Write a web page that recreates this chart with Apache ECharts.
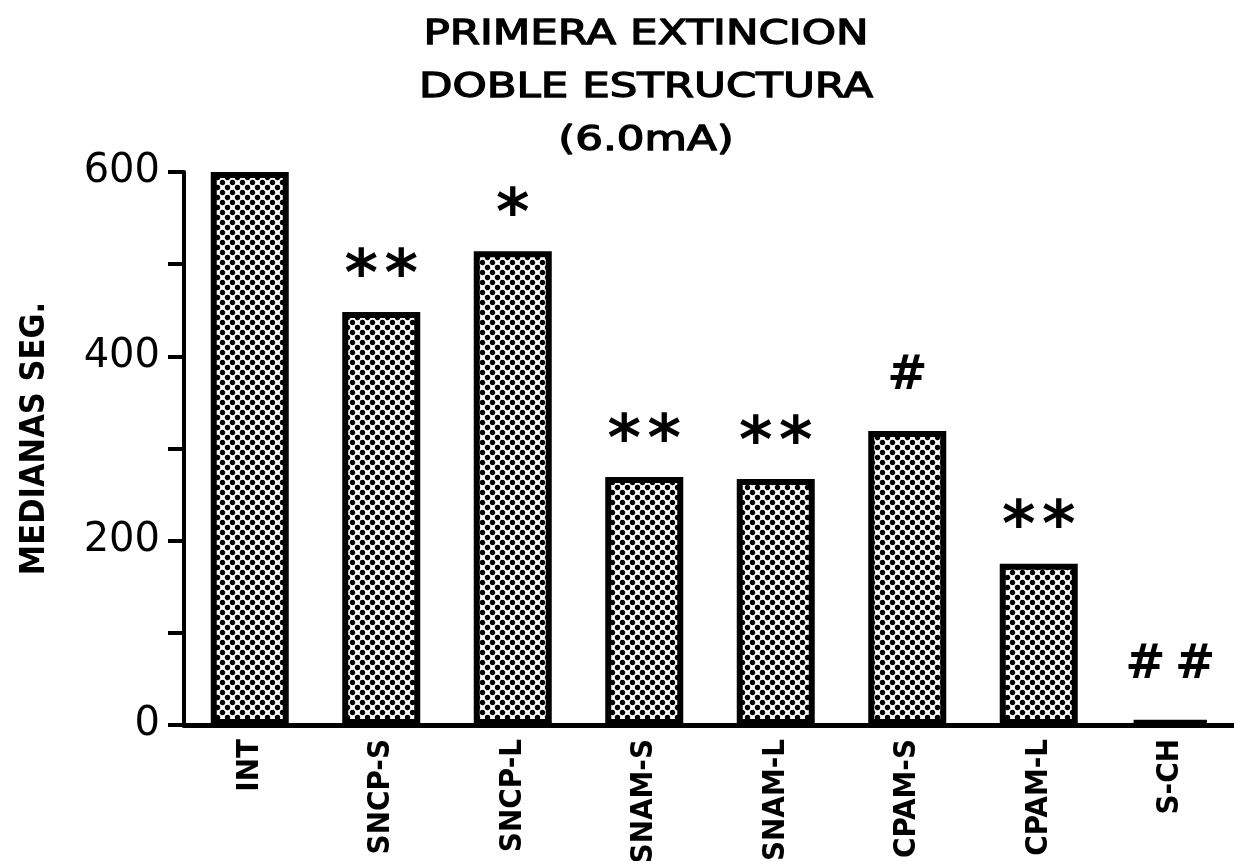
<!DOCTYPE html>
<html>
<head>
<meta charset="utf-8">
<script src="https://cdn.jsdelivr.net/npm/echarts@6/dist/echarts.min.js"></script>
<style>
  html, body { margin: 0; padding: 0; background: #fff; }
  #chart { width: 1234px; height: 861px; }
</style>
</head>
<body>
<div id="chart"></div>
<script>
// Groups on the x axis
const categories = ['INT', 'SNCP-S', 'SNCP-L', 'SNAM-S', 'SNAM-L', 'CPAM-S', 'CPAM-L', 'S-CH'];
// Median latency (s) per group
const medians = [600, 448, 514, 269, 267, 319, 175, 5];
// Significance marks printed over each bar
const marks = ['', '**', '*', '**', '**', '#', '**', '##'];
// Title lines
const titleLines = ['PRIMERA EXTINCION', 'DOBLE ESTRUCTURA', '(6.0mA)'];
const yAxisName = 'MEDIANAS SEG.';

// Stippled fill: black dots on white, staggered
function makeDots() {
  const s = 10;
  const c = document.createElement('canvas');
  c.width = s; c.height = s;
  const g = c.getContext('2d');
  g.fillStyle = '#fff';
  g.fillRect(0, 0, s, s);
  g.fillStyle = '#000';
  const pts = [[2.5, 2.5], [7.5, 7.5], [-2.5, 7.5], [12.5, 2.5], [2.5, 12.5], [7.5, -2.5]];
  pts.forEach(([x, y]) => {
    g.beginPath(); g.arc(x, y, 2.7, 0, Math.PI * 2); g.fill();
  });
  return c;
}

// Marks use a larger face for asterisks than for hashes
function markText(m) {
  if (!m) return '';
  if (m[0] === '*') return '{s|' + m.split('').join('\u200a') + '}';
  return '{h|' + m.split('').join('\u2009') + '}';
}

const chart = echarts.init(document.getElementById('chart'), null, { renderer: 'canvas' });

const titleGraphics = titleLines.map((t, i) => ({
  type: 'text',
  x: 646,
  y: 18 + i * 53,
  scaleX: 1.28,
  style: {
    text: t,
    font: 'normal 34px "DejaVu Sans"',
    fill: '#000',
    stroke: '#000',
    lineWidth: 1.3,
    textAlign: 'center',
    textVerticalAlign: 'top'
  }
}));

chart.setOption({
  animation: false,
  backgroundColor: '#fff',
  graphic: titleGraphics,
  grid: { left: 184, top: 172, width: 1052, bottom: 136, containLabel: false, outerBoundsMode: 'none' },
  xAxis: {
    type: 'category',
    data: categories,
    boundaryGap: true,
    axisLine: { lineStyle: { color: '#000', width: 5 } },
    axisTick: { show: false },
    axisLabel: {
      rotate: 90,
      margin: 14,
      color: '#000',
      fontFamily: '"DejaVu Sans Condensed", "DejaVu Sans", sans-serif',
      fontWeight: 'bold',
      fontSize: 31
    }
  },
  yAxis: {
    type: 'value',
    min: 0,
    max: 600,
    interval: 100,
    name: yAxisName,
    nameLocation: 'middle',
    nameGap: 132,
    nameTextStyle: {
      color: '#000',
      fontFamily: '"DejaVu Sans Condensed", "DejaVu Sans", sans-serif',
      fontWeight: 'bold',
      fontSize: 34,
      padding: [0, 0, 0, 20]
    },
    axisLine: { show: true, lineStyle: { color: '#000', width: 4 } },
    axisTick: { show: true, length: 16, lineStyle: { color: '#000', width: 4 } },
    splitLine: { show: false },
    axisLabel: {
      margin: 24,
      color: '#000',
      fontFamily: '"DejaVu Sans", sans-serif',
      fontSize: 40,
      formatter: v => (v % 200 === 0 ? String(v) : '')
    }
  },
  series: [{
    type: 'bar',
    data: medians,
    barWidth: 78,
    itemStyle: {
      color: { image: makeDots(), repeat: 'repeat' },
      borderColor: '#000',
      borderWidth: 6
    },
    label: {
      show: true,
      position: 'top',
      distance: 2,
      color: '#000',
      fontFamily: '"DejaVu Sans", sans-serif',
      fontWeight: 'bold',
      formatter: p => markText(marks[p.dataIndex]),
      rich: {
        s: { fontSize: 64, fontWeight: 'bold', color: '#000', fontFamily: '"DejaVu Sans", sans-serif' },
        h: { fontSize: 48, fontWeight: 'bold', color: '#000', fontFamily: '"DejaVu Sans", sans-serif', padding: [0, 0, 28, 0] }
      }
    }
  }]
});
</script>
</body>
</html>
